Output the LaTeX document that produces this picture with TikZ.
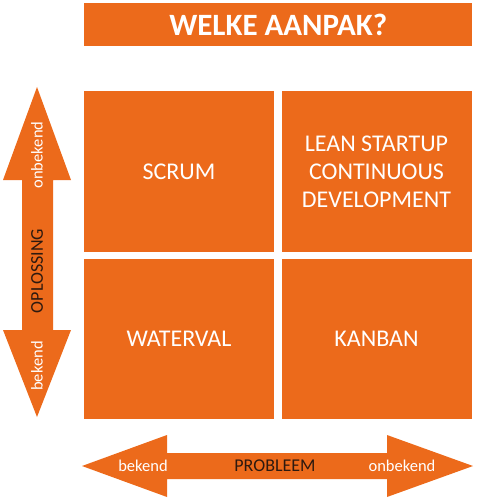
\documentclass[tikz,border=0pt]{standalone}
\usepackage{fontspec}
\setmainfont{Carlito}
\usepackage{tikz}
\usepackage{xcolor}
\definecolor{oranje}{RGB}{236,106,27}
\definecolor{donker}{RGB}{45,25,15}

\begin{document}
\begin{tikzpicture}[x=1pt,y=-1pt,
    vak/.style={fill=oranje,minimum width=190pt,minimum height=160.5pt,inner sep=0pt,
      text=white,align=center,font=\fontsize{24}{28}\selectfont},
    pijltekst/.style={text=white,inner sep=0pt,font=\fontsize{16.5}{18}\selectfont},
    asnaam/.style={text=donker,inner sep=0pt,font=\fontsize{18}{20}\selectfont}]
        \useasboundingbox (0,0) rectangle (478,500);
        \node[fill=oranje,anchor=north west,minimum width=388pt,minimum height=43pt,inner sep=0pt,
          text=white,font=\bfseries\fontsize{31}{34}\selectfont] (titel) at (84,3) {WELKE AANPAK?};
        \foreach \naam / \x / \y / \tekst in {scrum/179/171.5/SCRUM,lean/376.5/171.5/{LEAN STARTUP\\CONTINUOUS\\DEVELOPMENT},
            waterval/179/339/WATERVAL,kanban/376.5/339/KANBAN} {
            \node[vak] (\naam) at (\x,\y) {\tekst};
        };
        \fill[oranje] (37,87) -- (71,180) -- (53,180) -- (53,330) -- (71,330) -- (37,417)
          -- (3,330) -- (22,330) -- (22,180) -- (3,180) -- cycle;
        \fill[oranje] (82,466) -- (167,435) -- (167,453) -- (387,453) -- (387,435) -- (473,466)
          -- (387,497) -- (387,479) -- (167,479) -- (167,497) -- cycle;
        \node[pijltekst,rotate=90] (oponbekend) at (37,155) {onbekend};
        \node[asnaam,rotate=90] (oplossing) at (37,271) {OPLOSSING};
        \node[pijltekst,rotate=90] (opbekend) at (37,366) {bekend};
        \node[pijltekst] (prbekend) at (143,466) {bekend};
        \node[asnaam] (probleem) at (275,466) {PROBLEEM};
        \node[pijltekst] (pronbekend) at (402,466) {onbekend};
    \end{tikzpicture}
\end{document}
